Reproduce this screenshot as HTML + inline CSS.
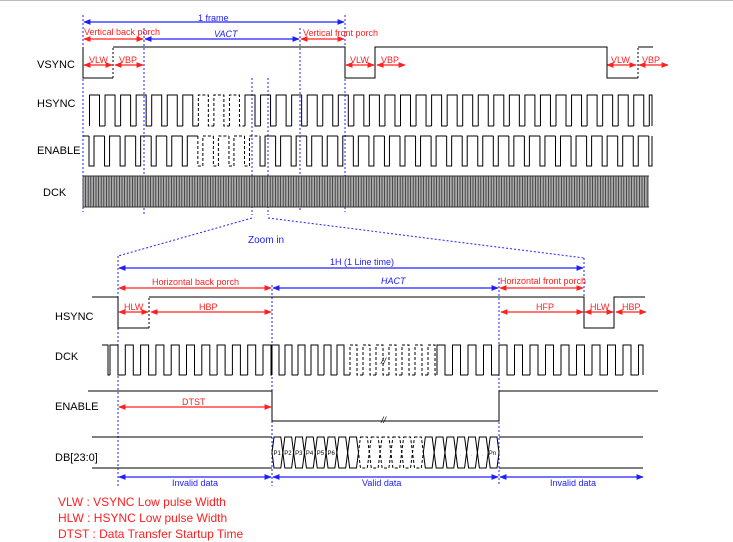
<!DOCTYPE html>
<html><head><meta charset="utf-8"><style>
html,body{margin:0;padding:0;background:#fff;}
svg{display:block;font-family:"Liberation Sans",sans-serif;}
</style></head><body>
<svg id="s" width="733" height="542" viewBox="0 0 733 542" xmlns="http://www.w3.org/2000/svg">
<defs>
<marker id="rb" viewBox="0 0 10 10" refX="9" refY="5" markerWidth="6" markerHeight="6" orient="auto-start-reverse"><path d="M0,1 L10,5 L0,9 z" fill="#ff2020"/></marker>
<marker id="bb" viewBox="0 0 10 10" refX="9" refY="5" markerWidth="6" markerHeight="6" orient="auto-start-reverse"><path d="M0,1 L10,5 L0,9 z" fill="#2020ff"/></marker>
</defs>
<line x1="0" y1="0.5" x2="733" y2="0.5" stroke="#bbb" stroke-width="1"/>
<g id="g"></g>
<g font-size="11" fill="#000">
<text x="37" y="68">VSYNC</text>
<text x="37" y="107">HSYNC</text>
<text x="37" y="154">ENABLE</text>
<text x="43" y="196">DCK</text>
<text x="55" y="320">HSYNC</text>
<text x="55" y="360">DCK</text>
<text x="55" y="410">ENABLE</text>
<text x="55" y="461">DB[23:0]</text>
</g>
<g font-size="9" fill="#ff2020">
<text x="84" y="35">Vertical back porch</text>
<text x="303" y="36">Vertical front porch</text>
<text x="89" y="63">VLW</text><text x="119" y="63">VBP</text>
<text x="350" y="63">VLW</text><text x="381" y="63">VBP</text>
<text x="611" y="63">VLW</text><text x="642" y="63">VBP</text>
<text x="152" y="285">Horizontal back porch</text>
<text x="500" y="284">Horizontal front porch</text>
<text x="124" y="310">HLW</text><text x="199" y="310">HBP</text>
<text x="536" y="310">HFP</text><text x="590" y="310">HLW</text><text x="622" y="310">HBP</text>
<text x="182" y="405">DTST</text>
</g>
<g font-size="9" fill="#2020ff">
<text x="198" y="21">1 frame</text>
<text x="214" y="37" font-style="italic">VACT</text>
<text x="330" y="265">1H (1 Line time)</text>
<text x="381" y="284" font-style="italic">HACT</text>
<text x="172" y="486">Invalid data</text>
<text x="362" y="486">Valid data</text>
<text x="550" y="486">Invalid data</text>
<text x="248" y="243" font-size="10">Zoom in</text>
</g>
<g font-size="12" fill="#ff2020">
<text x="58" y="506">VLW : VSYNC Low pulse Width</text>
<text x="58" y="522">HLW : HSYNC Low pulse Width</text>
<text x="58" y="538">DTST : Data Transfer Startup Time</text>
</g>
<g font-size="6" fill="#000" id="pl"></g>
</svg>
<script>
var g=document.getElementById('g'),pl=document.getElementById('pl');
var NS='http://www.w3.org/2000/svg';
function el(t,a,p){var e=document.createElementNS(NS,t);for(var k in a)e.setAttribute(k,a[k]);(p||g).appendChild(e);return e;}
function P(d,o){o=o||{};el('path',{d:d,fill:'none',stroke:o.c||'#000','stroke-width':o.w||1,'stroke-dasharray':o.da||''});}
function vl(x,y1,y2,c){el('line',{x1:x,y1:y1,x2:x,y2:y2,stroke:c||'#2020ff','stroke-width':1,'stroke-dasharray':'2,2'});}
function ar(x1,x2,y,c){el('line',{x1:x1,y1:y,x2:x2,y2:y,stroke:c=='r'?'#ff2020':'#2020ff','stroke-width':1.2,'marker-start':'url(#'+c+'b)','marker-end':'url(#'+c+'b)'});}
vl(83,15,212);vl(144,28,215);vl(300,28,212);vl(345,15,212);vl(252,78,215);vl(268,78,215);
ar(84,344,22,'b');ar(84,143,39,'r');ar(145,299,39,'b');ar(301,344,39,'r');
ar(84,112,65,'r');ar(115,143,65,'r');ar(346,374,65,'r');ar(377,405,65,'r');ar(607,636,65,'r');ar(639,668,65,'r');
P('M83,47 V78 H113');P('M113,78 V47',{da:'2,2'});P('M113,47 H345 V78 H375 V47 H607 V78 H638');P('M638,78 V47',{da:'2,2'});P('M638,47 H653');
function wave(x0,x1,per,hiW,yh,yl,dashA,dashB){var x=x0;while(x<x1-0.5){var b=Math.min(x+hiW,x1),c=Math.min(x+per,x1);var dd=(x>=dashA&&x<dashB)?'3,2':'';
P('M'+x+','+yl+' V'+yh+' H'+b+' V'+yl+' H'+c,{da:dd});x+=per;}}
wave(89.5,652,15.55,10,95,126,197,245);
(function(){var x=83,per=15.55;P('M83,136 H89');x=89;while(x<652){var dd=(x>=197&&x<245)?'3,2':'';var b=x+5;P('M'+x+',136 V166 H'+Math.min(b,652)+' V136 H'+Math.min(x+per,652),{da:dd});x+=per;}
P('M652,136 V166');})();
(function(){var d='';for(var x=83;x<649;x+=2.6){d+='M'+x.toFixed(1)+',176 V207 ';}el('rect',{x:83,y:176,width:566,height:31,fill:'#aaa'});P(d,{c:'#333',w:0.8});P('M83,176 H649 M83,207 H649',{c:'#333'});})();
P('M252,218 L118,256',{c:'#2020ff',da:'2,2'});P('M268,218 L584,258',{c:'#2020ff',da:'2,2'});
vl(118,256,486);vl(272,285,486);vl(499,278,486);vl(584,258,308);
ar(119,583,268,'b');ar(119,271,288,'r');ar(273,498,288,'b');ar(500,583,288,'r');
ar(119,148,312,'r');ar(151,271,312,'r');ar(501,583,312,'r');ar(585,613,312,'r');ar(616,646,312,'r');
ar(119,271,407,'r');ar(119,271,477,'b');ar(273,498,477,'b');ar(500,643,477,'b');
P('M92,297 H118 V328 H149');P('M149,328 V297',{da:'2,2'});P('M149,297 H584 V328 H614 V297 H645');
P('M102,345 H108 V375 H110');
wave(110,272,15.3,8,345,375,0,0);
wave(272,350,13,7,345,375,0,0);
wave(350,437,13,7,345,375,0,999);
wave(437,643,15.5,8,345,375,0,0);
el('text',{x:381,y:364,'font-size':9,'font-style':'italic'}).textContent='//';
P('M88,391 H272 V421 H499 V391 H658');
el('text',{x:381,y:423,'font-size':9,'font-style':'italic'}).textContent='//';
P('M92,437 H272 M92,468 H272 M499,437 H643 M499,468 H643');
(function(){var n=21,w=(499-272)/n;for(var i=0;i<n;i++){var a=272+i*w,b=a+w;var dd=(a>=356&&a<415)?'3,2':'';
P('M'+(a+2)+',437 H'+(b-2)+' L'+b+',452.5 L'+(b-2)+',468 H'+(a+2)+' L'+a+',452.5 Z',{da:dd});}
var labs=['P1','P2','P3','P4','P5','P6'];for(var i=0;i<6;i++){var t=el('text',{x:273.5+i*w,y:455},pl);t.textContent=labs[i];}
var t=el('text',{x:272+20*w+0.5,y:455},pl);t.textContent='Pn';
for(var i=17;i<20;i++){var t=el('text',{x:272+i*w+4,y:456,fill:'#c80'},pl);t.textContent='.';}
})();
</script>
</body></html>
